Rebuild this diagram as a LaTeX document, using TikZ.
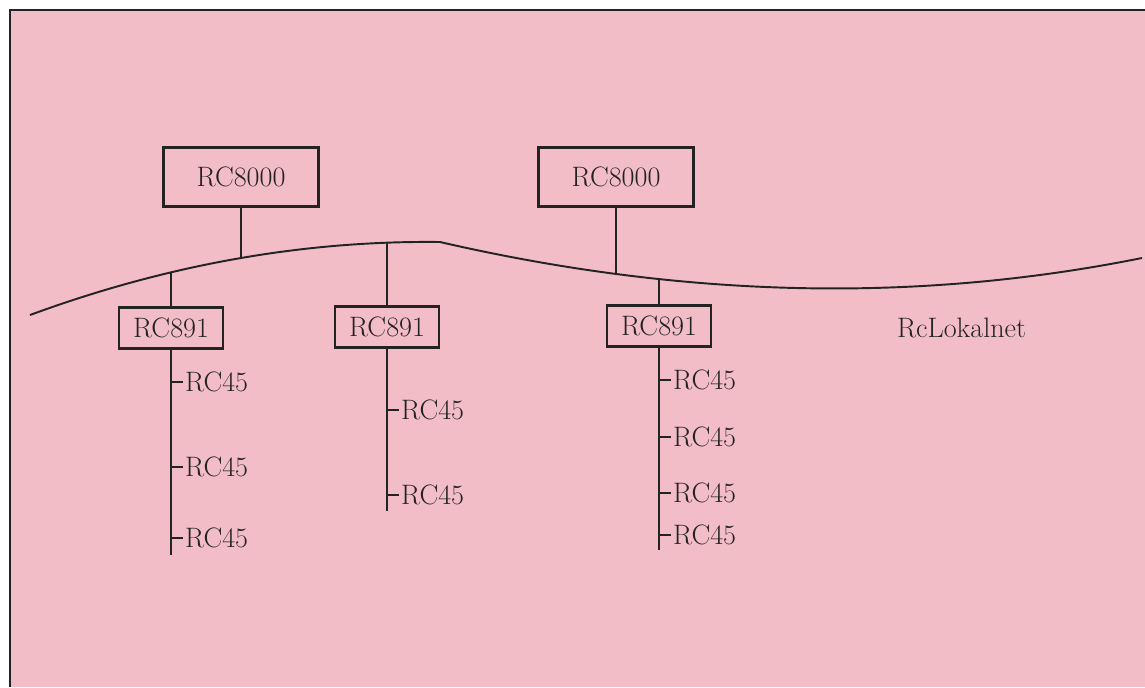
\documentclass[tikz,border=0pt]{standalone}
\usepackage{tikz}
\definecolor{sheet}{RGB}{243,189,200}
\definecolor{ink}{RGB}{35,35,35}

\begin{document}
\begin{tikzpicture}[x=0.02cm, y=-0.02cm, font=\fontsize{16}{19}\selectfont,
    host/.style={draw=ink, line width=1.2pt, minimum width=3.1cm, minimum height=1.18cm, inner sep=0pt, text=ink},
    gw/.style={draw=ink, line width=1.2pt, minimum width=2.08cm, minimum height=0.82cm, inner sep=0pt, text=ink},
    term/.style={anchor=west, inner sep=1pt, text=ink},
    wire/.style={draw=ink, line width=1.1pt}]
    \useasboundingbox (0,0) rectangle (1145,687);
    \fill[sheet] (10,10) rectangle (1145,687);
    \draw[wire] (10,687) -- (10,10) -- (1145,10);

    \draw[wire] (30,315) .. controls (166.67,264.73) and (303.33,240.4) ..
        coordinate[pos=0.344] (jgwA) coordinate[pos=0.5146] (jhostA) coordinate[pos=0.8707] (jgwB) (440,242);
    \draw[wire] (440,242) .. controls (674,296) and (908,305) ..
        coordinate[pos=0.2507] (jhostB) coordinate[pos=0.312] (jgwC) (1142,258);

    \node[host] (hostA) at (241,177) {RC8000};
    \node[host] (hostB) at (616,177) {RC8000};
    \draw[wire] (jhostA) -- (jhostA |- hostA.south);
    \draw[wire] (jhostB) -- (jhostB |- hostB.south);

    \node[gw] (gwA) at (171,328) {RC891};
    \node[gw] (gwB) at (387,327) {RC891};
    \node[gw] (gwC) at (659,326) {RC891};
    \draw[wire] (jgwA) -- (jgwA |- gwA.north);
    \draw[wire] (jgwB) -- (jgwB |- gwB.north);
    \draw[wire] (jgwC) -- (jgwC |- gwC.north);

    \coordinate (endA) at (171,555);
    \coordinate (endB) at (387,511);
    \coordinate (endC) at (659,550);
    \draw[wire] (gwA.south) -- (endA);
    \draw[wire] (gwB.south) -- (endB);
    \draw[wire] (gwC.south) -- (endC);

    \node[term] (tA1) at (183,382) {RC45};
    \node[term] (tA2) at (183,467) {RC45};
    \node[term] (tA3) at (183,538) {RC45};
    \node[term] (tB1) at (399,410) {RC45};
    \node[term] (tB2) at (399,495) {RC45};
    \node[term] (tC1) at (671,380) {RC45};
    \node[term] (tC2) at (671,437) {RC45};
    \node[term] (tC3) at (671,493) {RC45};
    \node[term] (tC4) at (671,535) {RC45};
    \foreach \t in {tA1,tA2,tA3} \draw[wire] (\t.west) -- (\t.west -| endA);
    \foreach \t in {tB1,tB2} \draw[wire] (\t.west) -- (\t.west -| endB);
    \foreach \t in {tC1,tC2,tC3,tC4} \draw[wire] (\t.west) -- (\t.west -| endC);

    \node[term] (net) at (895,328) {RcLokalnet};
\end{tikzpicture}
\end{document}
